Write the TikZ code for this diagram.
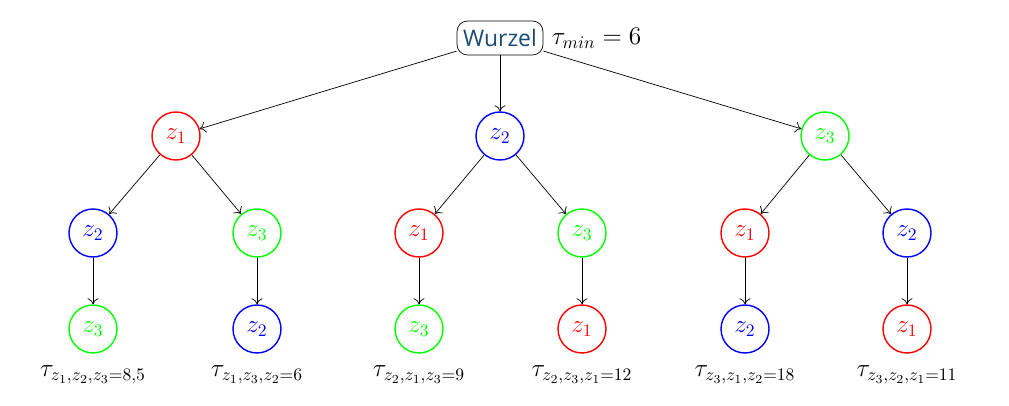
\documentclass[tikz,border=0pt]{standalone}
\usepackage{fontspec}
\setmainfont{Open Sans}
\usetikzlibrary{arrows.meta}
\definecolor{wurzelblau}{RGB}{25,75,115}
\begin{document}
\fontsize{14}{17}\selectfont
\begin{tikzpicture}[>={To[length=1.2mm,width=2.2mm]},
 zr/.style={circle, draw=red, text=red, thick, inner sep=0pt, minimum size=9.6mm},
 zb/.style={circle, draw=blue, text=blue, thick, inner sep=0pt, minimum size=9.6mm},
 zg/.style={circle, draw=green, text=green, thick, inner sep=0pt, minimum size=9.6mm},
 tau/.style={inner sep=1pt}]
 \useasboundingbox (0,0) rectangle (20.18,-8.12);
 \node[draw, rounded corners=6pt, text=wurzelblau, minimum width=1.72cm, minimum height=0.68cm, inner sep=2pt, font=\fontsize{13}{15}\selectfont] (w) at (10,-0.76) {Wurzel};
 \node[anchor=west] (tmin) at (w.east) {$\tau_{min} = 6$};
 % erste Ebene
 \node[zr] (a) at (3.52,-2.72) {$z_1$};
 \node[zb] (b) at (10,-2.72) {$z_2$};
 \node[zg] (c) at (16.5,-2.72) {$z_3$};
 % zweite Ebene
 \node[zb] (ab) at (1.86,-4.66) {$z_2$};
 \node[zg] (ac) at (5.14,-4.66) {$z_3$};
 \node[zr] (ba) at (8.38,-4.66) {$z_1$};
 \node[zg] (bc) at (11.64,-4.66) {$z_3$};
 \node[zr] (ca) at (14.9,-4.66) {$z_1$};
 \node[zb] (cb) at (18.14,-4.66) {$z_2$};
 % dritte Ebene
 \node[zg] (abc) at (1.86,-6.58) {$z_3$};
 \node[zb] (acb) at (5.14,-6.58) {$z_2$};
 \node[zg] (bac) at (8.38,-6.58) {$z_3$};
 \node[zr] (bca) at (11.64,-6.58) {$z_1$};
 \node[zb] (cab) at (14.9,-6.58) {$z_2$};
 \node[zr] (cba) at (18.14,-6.58) {$z_1$};
 % Kosten
 \node[tau] (tabc) at (1.86,-7.5) {$\tau_{z_1,z_2,z_3=8,5}$};
 \node[tau] (tacb) at (5.14,-7.5) {$\tau_{z_1,z_3,z_2=6}$};
 \node[tau] (tbac) at (8.38,-7.5) {$\tau_{z_2,z_1,z_3=9}$};
 \node[tau] (tbca) at (11.64,-7.5) {$\tau_{z_2,z_3,z_1=12}$};
 \node[tau] (tcab) at (14.9,-7.5) {$\tau_{z_3,z_1,z_2=18}$};
 \node[tau] (tcba) at (18.14,-7.5) {$\tau_{z_3,z_2,z_1=11}$};
 \draw[->] (w) -- (a);
 \draw[->] (w) -- (b);
 \draw[->] (w) -- (c);
 \draw[->] (a) -- (ab);
 \draw[->] (a) -- (ac);
 \draw[->] (b) -- (ba);
 \draw[->] (b) -- (bc);
 \draw[->] (c) -- (ca);
 \draw[->] (c) -- (cb);
 \draw[->] (ab) -- (abc);
 \draw[->] (ac) -- (acb);
 \draw[->] (ba) -- (bac);
 \draw[->] (bc) -- (bca);
 \draw[->] (ca) -- (cab);
 \draw[->] (cb) -- (cba);
\end{tikzpicture}
\end{document}
